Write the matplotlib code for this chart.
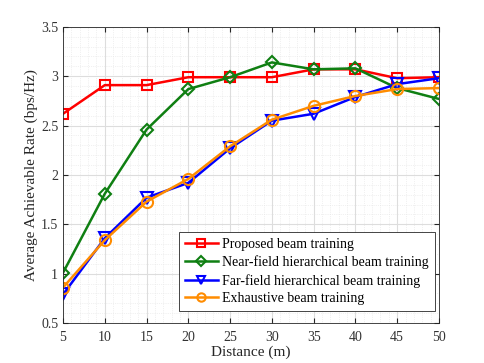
import numpy as np
import matplotlib.pyplot as plt
from matplotlib.ticker import MultipleLocator

plt.rcParams['font.family'] = ['Liberation Serif', 'DejaVu Serif']
plt.rcParams['mathtext.fontset'] = 'stix'

distance = [5, 10, 15, 20, 25, 30, 35, 40, 45, 50]
proposed = [2.62, 2.91, 2.91, 2.99, 2.99, 2.99, 3.07, 3.07, 2.98, 2.99]
near_field = [1.01, 1.81, 2.46, 2.87, 2.99, 3.14, 3.07, 3.08, 2.88, 2.77]
far_field = [0.79, 1.36, 1.77, 1.92, 2.27, 2.55, 2.62, 2.79, 2.92, 2.98]
exhaustive = [0.86, 1.34, 1.73, 1.96, 2.29, 2.56, 2.70, 2.80, 2.87, 2.88]

labels = ['Proposed beam training',
          'Near-field hierarchical beam training',
          'Far-field hierarchical beam training',
          'Exhaustive beam training']

fig = plt.figure(figsize=(4.85, 3.63), dpi=100)
ax = fig.add_axes([0.130, 0.110, 0.775, 0.816])

ax.plot(distance, proposed, color='#ff0000', marker='s', ms=7, mfc='none',
        mew=1.5, lw=1.8, label=labels[0])
ax.plot(distance, near_field, color='#0f7f12', marker='D', ms=6.5, mfc='none',
        mew=1.5, lw=1.8, label=labels[1])
ax.plot(distance, far_field, color='#0000ff', marker='v', ms=8, mfc='none',
        mew=1.5, lw=1.8, label=labels[2])
ax.plot(distance, exhaustive, color='#ff8c00', marker='o', ms=8, mfc='none',
        mew=1.5, lw=1.8, label=labels[3])

ax.set_xlim(5, 50)
ax.set_ylim(0.5, 3.5)
ax.xaxis.set_major_locator(MultipleLocator(5))
ax.xaxis.set_minor_locator(MultipleLocator(1))
ax.yaxis.set_major_locator(MultipleLocator(0.5))
ax.yaxis.set_minor_locator(MultipleLocator(0.1))
ax.set_yticks([0.5, 1, 1.5, 2, 2.5, 3, 3.5])
ax.set_yticklabels(['0.5', '1', '1.5', '2', '2.5', '3', '3.5'])

ax.grid(which='major', color='#dddddd', lw=0.8)
ax.grid(which='minor', color='#e4e4e4', lw=0.5, ls=':')
ax.set_axisbelow(True)
ax.tick_params(which='both', direction='in', top=True, right=True,
               labelsize=10, labelcolor='#333333', color='#262626')
ax.tick_params(axis='x', pad=6)
ax.tick_params(which='minor', length=0)
for s in ax.spines.values():
    s.set_color('#262626')
    s.set_linewidth(0.6)

ax.set_xlabel('Distance (m)', fontsize=11, labelpad=1, color='#262626')
ax.set_ylabel('Average Achievable Rate (bps/Hz)', fontsize=11, labelpad=2,
              color='#262626')

leg = ax.legend(loc='lower right', bbox_to_anchor=(0.99, 0.04), fontsize=10,
                frameon=True, fancybox=False, edgecolor='#262626',
                framealpha=1, handlelength=2.4, markerscale=0.75,
                borderpad=0.45, labelspacing=0.32, handletextpad=0.3,
                borderaxespad=0)
leg.get_frame().set_linewidth(0.6)

fig.savefig('out.png', dpi=100)
